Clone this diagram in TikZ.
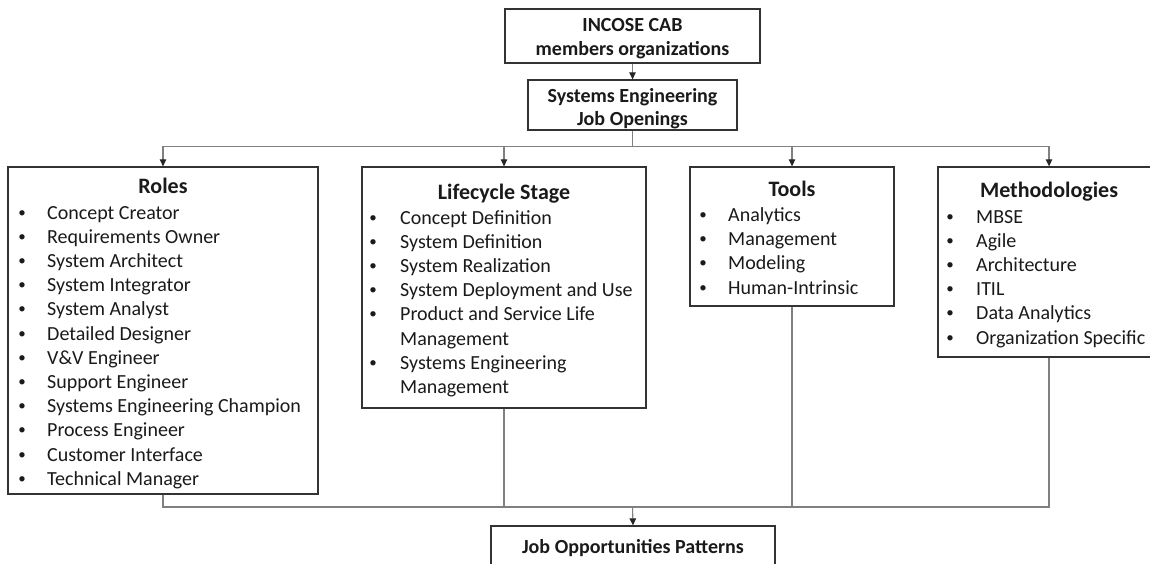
\documentclass[tikz,border=0pt]{standalone}
\usepackage{fontspec}
\setmainfont{Carlito}
\usetikzlibrary{arrows.meta,fit}
\definecolor{boxline}{HTML}{333333}
\definecolor{connline}{HTML}{808080}
\definecolor{txt}{HTML}{1A1A1A}
\tikzset{
  box/.style={draw=boxline, line width=1.3pt, inner sep=0pt, fill=white},
  conn/.style={draw=connline, line width=1.1pt},
  arr/.style={-{Triangle[width=6.5pt,length=7pt,color=black!85]}},
  item/.style={inner sep=0pt, anchor=base west, text=txt, font=\fontsize{20}{24}\selectfont},
  bul/.style={inner sep=0pt, anchor=base, text=txt, font=\fontsize{15}{18}\selectfont, yshift=2pt},
  ttl/.style={inner sep=0pt, anchor=base, text=txt, font=\fontsize{22}{26}\selectfont\bfseries},
  hdr/.style={inner sep=0pt, anchor=base, text=txt, font=\fontsize{20}{24}\selectfont\bfseries},
}
\begin{document}
\begin{tikzpicture}[x=1pt,y=-1pt]
\useasboundingbox (0,0) rectangle (1150,564);
\fill[white] (0,0) rectangle (1150,564);
\clip (0,0) rectangle (1150,564);

% boxes
\node[box, fit={(505,9) (760,63)}] (top) {};
\node[box, fit={(528,80) (737,130)}] (seo) {};
\node[box, fit={(8,167) (318,494)}] (roles) {};
\node[box, fit={(362,167) (646,408)}] (life) {};
\node[box, fit={(690,167) (894,306)}] (tools) {};
\node[box, fit={(938,167) (1160,357)}] (meth) {};
\node[box, fit={(491,526) (775,590)}] (jop) {};

% header texts
\node[hdr] (topa) at (632.5,31.5) {INCOSE CAB};
\node[hdr] (topb) at (632.5,55.5) {members organizations};
\node[hdr] (seoa) at (632.5,102.5) {Systems Engineering};
\node[hdr] (seob) at (632.5,125.5) {Job Openings};
\node[hdr] (jopa) at (633,553.5) {Job Opportunities Patterns};

% Roles
\node[ttl] (rt) at (163,193.5) {Roles};
\foreach \i/\t in {1/Concept Creator, 2/Requirements Owner, 3/System Architect,
  4/System Integrator, 5/System Analyst, 6/Detailed Designer, 7/V\&V Engineer,
  8/Support Engineer, 9/Systems Engineering Champion, 10/Process Engineer,
  11/Customer Interface, 12/Technical Manager}{
  \node[bul] (rb\i) at (22,{219+(\i-1)*24.2}) {•};
  \node[item] (r\i) at (47,{219+(\i-1)*24.2}) {\t};
}

% Lifecycle Stage
\node[ttl] (lt) at (504,199) {Lifecycle Stage};
\foreach \i/\t in {1/Concept Definition, 2/System Definition, 3/System Realization,
  4/System Deployment and Use, 5/Product and Service Life, 6/Management,
  7/Systems Engineering, 8/Management}{
  \node[item] (l\i) at (400,{224+(\i-1)*24.2}) {\t};
}
\foreach \i in {1,2,3,4,5,7}{
  \node[bul] (lb\i) at (373,{224+(\i-1)*24.2}) {•};
}

% Tools
\node[ttl] (tt) at (792,196.5) {Tools};
\foreach \i/\t in {1/Analytics, 2/Management, 3/Modeling, 4/Human-Intrinsic}{
  \node[bul] (tb\i) at (703,{221.5+(\i-1)*24.2}) {•};
  \node[item] (t\i) at (728,{221.5+(\i-1)*24.2}) {\t};
}

% Methodologies
\node[ttl] (mt) at (1049,197) {Methodologies};
\foreach \i/\t in {1/MBSE, 2/Agile, 3/Architecture, 4/ITIL, 5/Data Analytics,
  6/Organization Specific}{
  \node[bul] (mb\i) at (950,{223+(\i-1)*24.2}) {•};
  \node[item] (m\i) at (976,{223+(\i-1)*24.2}) {\t};
}

% connectors
\coordinate (busT) at (632.5,146.5);
\coordinate (busB) at (632.5,507);
\draw[conn,arr] (top.south) -- (seo.north);
\draw[conn] (seo.south) -- (busT);
\draw[conn,arr] (busT) -| (roles.north);
\draw[conn,arr] (busT) -| (life.north);
\draw[conn,arr] (busT) -| (tools.north);
\draw[conn,arr] (busT) -| (meth.north);
\draw[conn] (roles.south) |- (busB);
\draw[conn] (life.south) |- (busB);
\draw[conn] (tools.south) |- (busB);
\draw[conn] (meth.south) |- (busB);
\draw[conn,arr] (busB) -- (jop.north);
\end{tikzpicture}
\end{document}
